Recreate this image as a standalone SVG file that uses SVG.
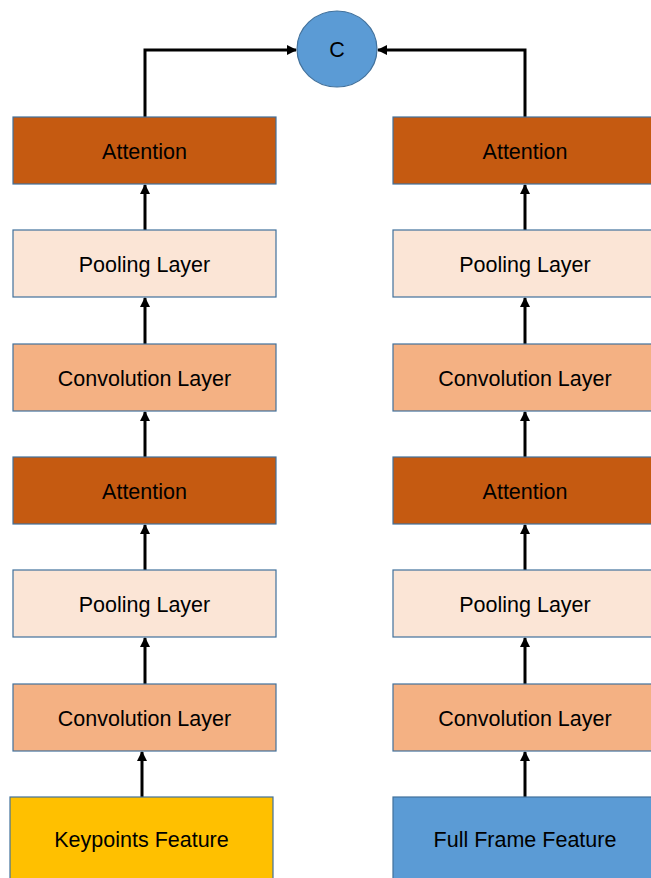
<svg xmlns="http://www.w3.org/2000/svg" width="651" height="878" viewBox="0 0 651 878">
<style>
.box{stroke:#41719C;stroke-width:1.2}
.att{fill:#C55A11}
.pool{fill:#FBE5D6}
.conv{fill:#F4B183}
.kp{fill:#FFC000}
.ff{fill:#5B9BD5}
text{font-family:"Liberation Sans",Arial,sans-serif;font-size:21.5px;fill:#000;text-anchor:middle}
.conn{fill:none;stroke:#000;stroke-width:3;marker-end:url(#ah)}
</style>
<defs>
<marker id="ah" viewBox="0 0 10 10" refX="9" refY="5" markerWidth="3.4" markerHeight="3.4" orient="auto" markerUnits="strokeWidth">
<path d="M0,0 L10,5 L0,10 z" fill="#000"/>
</marker>
</defs>
<rect width="651" height="878" fill="#fff"/>
<g id="connectors">
<path class="conn" d="M145,117 V50 H296"/>
<path class="conn" d="M525,117 V50 H378"/>
<path class="conn" d="M145,230 V185"/>
<path class="conn" d="M145,344 V298"/>
<path class="conn" d="M145,457 V412"/>
<path class="conn" d="M145,570 V525"/>
<path class="conn" d="M145,684 V638"/>
<path class="conn" d="M142,797 V752"/>
<path class="conn" d="M525,230 V185"/>
<path class="conn" d="M525,344 V298"/>
<path class="conn" d="M525,457 V412"/>
<path class="conn" d="M525,570 V525"/>
<path class="conn" d="M525,684 V638"/>
<path class="conn" d="M525,797 V752"/>
</g>
<g id="concat"><ellipse class="box ff" cx="337" cy="49" rx="40" ry="38"/><text x="337" y="57">C</text></g>
<g id="l_att2"><rect class="box att" x="13" y="117" width="263" height="67"/><text x="144.5" y="158.5">Attention</text></g>
<g id="l_pool2"><rect class="box pool" x="13" y="230" width="263" height="67"/><text x="144.5" y="271.5">Pooling Layer</text></g>
<g id="l_conv2"><rect class="box conv" x="13" y="344" width="263" height="67"/><text x="144.5" y="385.5">Convolution Layer</text></g>
<g id="l_att1"><rect class="box att" x="13" y="457" width="263" height="67"/><text x="144.5" y="498.5">Attention</text></g>
<g id="l_pool1"><rect class="box pool" x="13" y="570" width="263" height="67"/><text x="144.5" y="611.5">Pooling Layer</text></g>
<g id="l_conv1"><rect class="box conv" x="13" y="684" width="263" height="67"/><text x="144.5" y="725.5">Convolution Layer</text></g>
<g id="keypoints"><rect class="box kp" x="10" y="797" width="263" height="90"/><text x="141.5" y="847">Keypoints Feature</text></g>
<g id="r_att2"><rect class="box att" x="393" y="117" width="264" height="67"/><text x="525" y="158.5">Attention</text></g>
<g id="r_pool2"><rect class="box pool" x="393" y="230" width="264" height="67"/><text x="525" y="271.5">Pooling Layer</text></g>
<g id="r_conv2"><rect class="box conv" x="393" y="344" width="264" height="67"/><text x="525" y="385.5">Convolution Layer</text></g>
<g id="r_att1"><rect class="box att" x="393" y="457" width="264" height="67"/><text x="525" y="498.5">Attention</text></g>
<g id="r_pool1"><rect class="box pool" x="393" y="570" width="264" height="67"/><text x="525" y="611.5">Pooling Layer</text></g>
<g id="r_conv1"><rect class="box conv" x="393" y="684" width="264" height="67"/><text x="525" y="725.5">Convolution Layer</text></g>
<g id="fullframe"><rect class="box ff" x="393" y="797" width="264" height="90"/><text x="525" y="847">Full Frame Feature</text></g>
</svg>
